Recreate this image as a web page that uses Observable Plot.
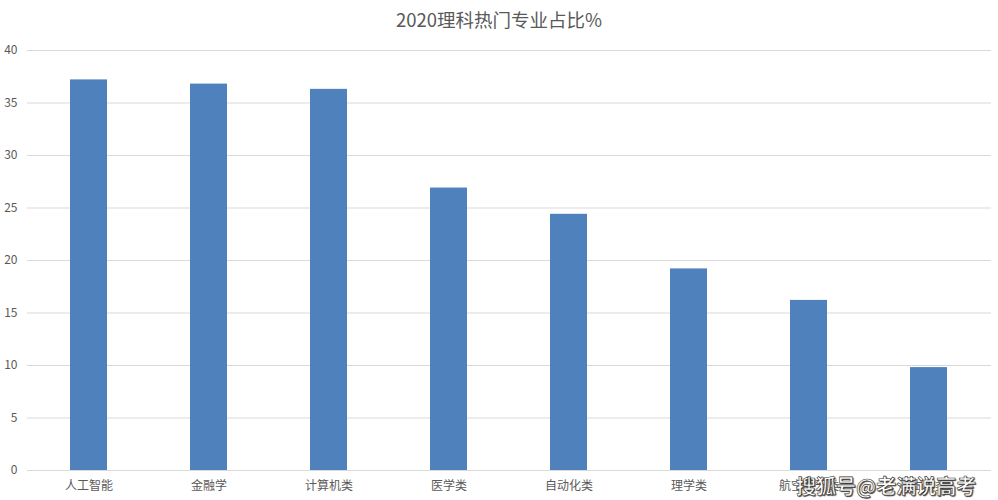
<!DOCTYPE html>
<html>
<head>
<meta charset="utf-8">
<script src="https://cdn.jsdelivr.net/npm/d3@7"></script>
<script src="https://cdn.jsdelivr.net/npm/@observablehq/plot@0.6"></script>
<style>
  html, body { margin: 0; padding: 0; background: #fff; }
  #wrap { position: relative; width: 998px; height: 500px; overflow: hidden; }
  #title { height: 36px; line-height: 38px; text-align: center; font-family: "Noto Sans CJK SC", "Noto Sans", sans-serif; font-size: 18.5px; color: #595959; }
  #wm { position: absolute; left: 796px; top: 471px; font-family: "Noto Sans CJK SC", sans-serif; font-size: 20px; font-weight: bold; color: #fff; -webkit-text-stroke: 0.6px #333; text-shadow: 1px 1px 1px #444; }
</style>
</head>
<body>
<div id="wrap">
  <div id="title">2020理科热门专业占比%</div>
  <div id="chart"></div>
  <div id="wm">搜狐号@老满说高考</div>
</div>
<script>
const categories = ["人工智能", "金融学", "计算机类", "医学类", "自动化类", "理学类", "航空航天类", "土木类"];
const values = [37.2, 36.8, 36.3, 26.9, 24.4, 19.2, 16.2, 9.8];
const yTicks = [0, 5, 10, 15, 20, 25, 30, 35, 40];

const data = categories.map((c, i) => ({category: c, value: values[i]}));

const chart = Plot.plot({
  width: 998,
  height: 464,
  marginLeft: 27,
  marginRight: 7,
  marginTop: 14,
  marginBottom: 30,
  style: {fontFamily: "'Noto Sans CJK SC', 'Noto Sans', sans-serif", fontSize: "12px", color: "#595959", background: "#fff"},
  x: {domain: categories, paddingInner: 0.69, paddingOuter: 0.345, label: null},
  y: {domain: [0, 40], label: null},
  marks: [
    Plot.gridY(yTicks, {stroke: "#d9d9d9", strokeOpacity: 1}),
    Plot.barY(data, {x: "category", y: "value", fill: "#4f81bd"}),
    Plot.ruleY([0], {stroke: "#d9d9d9"}),
    Plot.axisY(yTicks, {tickSize: 0, tickPadding: 10, label: null, fill: "#595959", fontSize: 12}),
    Plot.axisX({tickSize: 0, tickPadding: 11, label: null, fill: "#595959", fontSize: 12})
  ]
});
document.getElementById("chart").appendChild(chart);
</script>
</body>
</html>
